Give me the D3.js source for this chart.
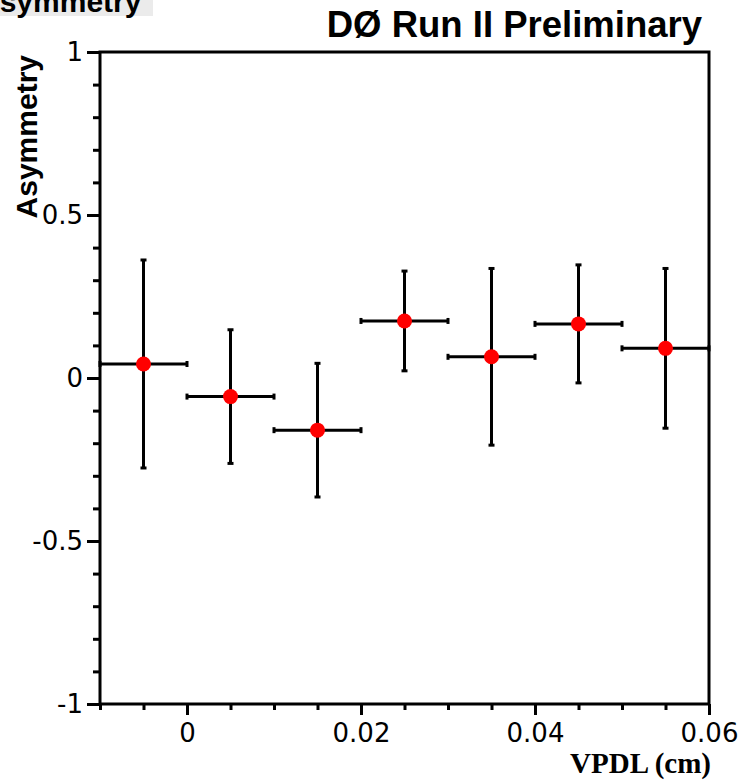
<!DOCTYPE html>
<html>
<head>
<meta charset="utf-8">
<script src="https://cdn.jsdelivr.net/npm/d3@7"></script>
<style>
  html, body { margin: 0; padding: 0; background: #fff; }
  svg { display: block; }
  .tick text { font-family: "DejaVu Sans", "Liberation Sans", sans-serif; }
</style>
</head>
<body>
<div id="chart"></div>
<script>
// asymmetry vs VPDL
const binCenters = [-0.005, 0.005, 0.015, 0.025, 0.035, 0.045, 0.055];
const binHalfWidth = [0.005, 0.005, 0.005, 0.005, 0.005, 0.005, 0.005];
const asym = [0.043, -0.057, -0.160, 0.175, 0.065, 0.166, 0.091];
const asymErr = [0.319, 0.205, 0.205, 0.153, 0.271, 0.181, 0.245];

const xMajorTicks = [0, 0.02, 0.04, 0.06];
const xTickLabels = ["0", "0.02", "0.04", "0.06"];
const yMajorTicks = [-1, -0.5, 0, 0.5, 1];
const yTickLabels = ["-1", "-0.5", "0", "0.5", "1"];

const width = 742, height = 781;
const margin = { top: 52, right: 33, bottom: 77, left: 100 };

const svg = d3.select("#chart").append("svg")
  .attr("width", width)
  .attr("height", height);

const x = d3.scaleLinear()
  .domain([-0.01, 0.06])
  .range([margin.left, width - margin.right]);

const y = d3.scaleLinear()
  .domain([-1, 1])
  .range([height - margin.bottom, margin.top]);

// Top-left histogram title box (partly off page, as in the original)
svg.append("rect")
  .attr("x", 0).attr("y", 0)
  .attr("width", 153).attr("height", 16)
  .attr("fill", "#ebebeb");
svg.append("text")
  .attr("x", -22).attr("y", 12)
  .attr("font-family", "Liberation Sans, Arial, sans-serif")
  .attr("font-weight", "bold")
  .attr("font-size", 30)
  .text("Asymmetry");

// Experiment label
svg.append("text")
  .attr("x", 702).attr("y", 37)
  .attr("text-anchor", "end")
  .attr("font-family", "Liberation Sans, Arial, sans-serif")
  .attr("font-weight", "bold")
  .attr("font-size", 36.5)
  .text("DØ Run II Preliminary");

// Frame
svg.append("rect")
  .attr("x", x(-0.01)).attr("y", y(1))
  .attr("width", x(0.06) - x(-0.01))
  .attr("height", y(-1) - y(1))
  .attr("fill", "none")
  .attr("stroke", "#000")
  .attr("stroke-width", 3);

// minor ticks
const yMinor = d3.range(-10, 11).map(d => d / 10);
const xMinor = d3.range(-2, 13).map(d => d * 0.005);

svg.append("g")
  .attr("transform", `translate(${margin.left},0)`)
  .call(d3.axisLeft(y).tickValues(yMinor).tickSize(7).tickFormat(""))
  .call(g => g.select(".domain").remove())
  .call(g => g.selectAll("line").attr("stroke-width", 3));

svg.append("g")
  .attr("transform", `translate(0,${height - margin.bottom})`)
  .call(d3.axisBottom(x).tickValues(xMinor).tickSize(6).tickFormat(""))
  .call(g => g.select(".domain").remove())
  .call(g => g.selectAll("line").attr("stroke-width", 3));

// major ticks + labels
svg.append("g")
  .attr("transform", `translate(${margin.left},0)`)
  .call(d3.axisLeft(y).tickValues(yMajorTicks).tickSize(13).tickPadding(4)
    .tickFormat((d, i) => yTickLabels[i]))
  .call(g => g.select(".domain").remove())
  .call(g => g.selectAll("line").attr("stroke-width", 3))
  .call(g => g.selectAll("text").attr("font-size", 26).attr("fill", "#000"));

svg.append("g")
  .attr("transform", `translate(0,${height - margin.bottom})`)
  .call(d3.axisBottom(x).tickValues(xMajorTicks).tickSize(11).tickPadding(9)
    .tickFormat((d, i) => xTickLabels[i]))
  .call(g => g.select(".domain").remove())
  .call(g => g.selectAll("line").attr("stroke-width", 3))
  .call(g => g.selectAll("text").attr("font-size", 26).attr("fill", "#000"));

// Axis titles
svg.append("text")
  .attr("transform", `translate(37,${y(1) + 3}) rotate(-90)`)
  .attr("text-anchor", "end")
  .attr("font-family", "Liberation Sans, Arial, sans-serif")
  .attr("font-weight", "bold")
  .attr("font-size", 30)
  .text("Asymmetry");

svg.append("text")
  .attr("x", 711).attr("y", 773)
  .attr("text-anchor", "end")
  .attr("font-family", "Liberation Serif, Times New Roman, serif")
  .attr("font-weight", "bold")
  .attr("font-size", 29)
  .text("VPDL (cm)");

// Data points with error bars
const points = binCenters.map((c, i) => ({
  x: c, dx: binHalfWidth[i], y: asym[i], dy: asymErr[i]
}));

const cap = 3;
const pts = svg.append("g").attr("stroke", "#000").attr("stroke-width", 3);

pts.selectAll(".ex")
  .data(points)
  .join("line")
  .attr("x1", d => x(d.x - d.dx))
  .attr("x2", d => x(d.x + d.dx))
  .attr("y1", d => y(d.y))
  .attr("y2", d => y(d.y));

pts.selectAll(".ey")
  .data(points)
  .join("line")
  .attr("class", "ey")
  .attr("x1", d => x(d.x))
  .attr("x2", d => x(d.x))
  .attr("y1", d => y(d.y - d.dy))
  .attr("y2", d => y(d.y + d.dy));

// end caps
const caps = [];
points.forEach(d => {
  caps.push({ x1: x(d.x - d.dx), y1: y(d.y) - cap, x2: x(d.x - d.dx), y2: y(d.y) + cap });
  caps.push({ x1: x(d.x + d.dx), y1: y(d.y) - cap, x2: x(d.x + d.dx), y2: y(d.y) + cap });
  caps.push({ x1: x(d.x) - cap, y1: y(d.y + d.dy), x2: x(d.x) + cap, y2: y(d.y + d.dy) });
  caps.push({ x1: x(d.x) - cap, y1: y(d.y - d.dy), x2: x(d.x) + cap, y2: y(d.y - d.dy) });
});
pts.selectAll(".cap")
  .data(caps)
  .join("line")
  .attr("class", "cap")
  .attr("x1", d => d.x1).attr("y1", d => d.y1)
  .attr("x2", d => d.x2).attr("y2", d => d.y2);

svg.append("g").selectAll("circle")
  .data(points)
  .join("circle")
  .attr("cx", d => x(d.x))
  .attr("cy", d => y(d.y))
  .attr("r", 7.5)
  .attr("fill", "#ff0000");
</script>
</body>
</html>
